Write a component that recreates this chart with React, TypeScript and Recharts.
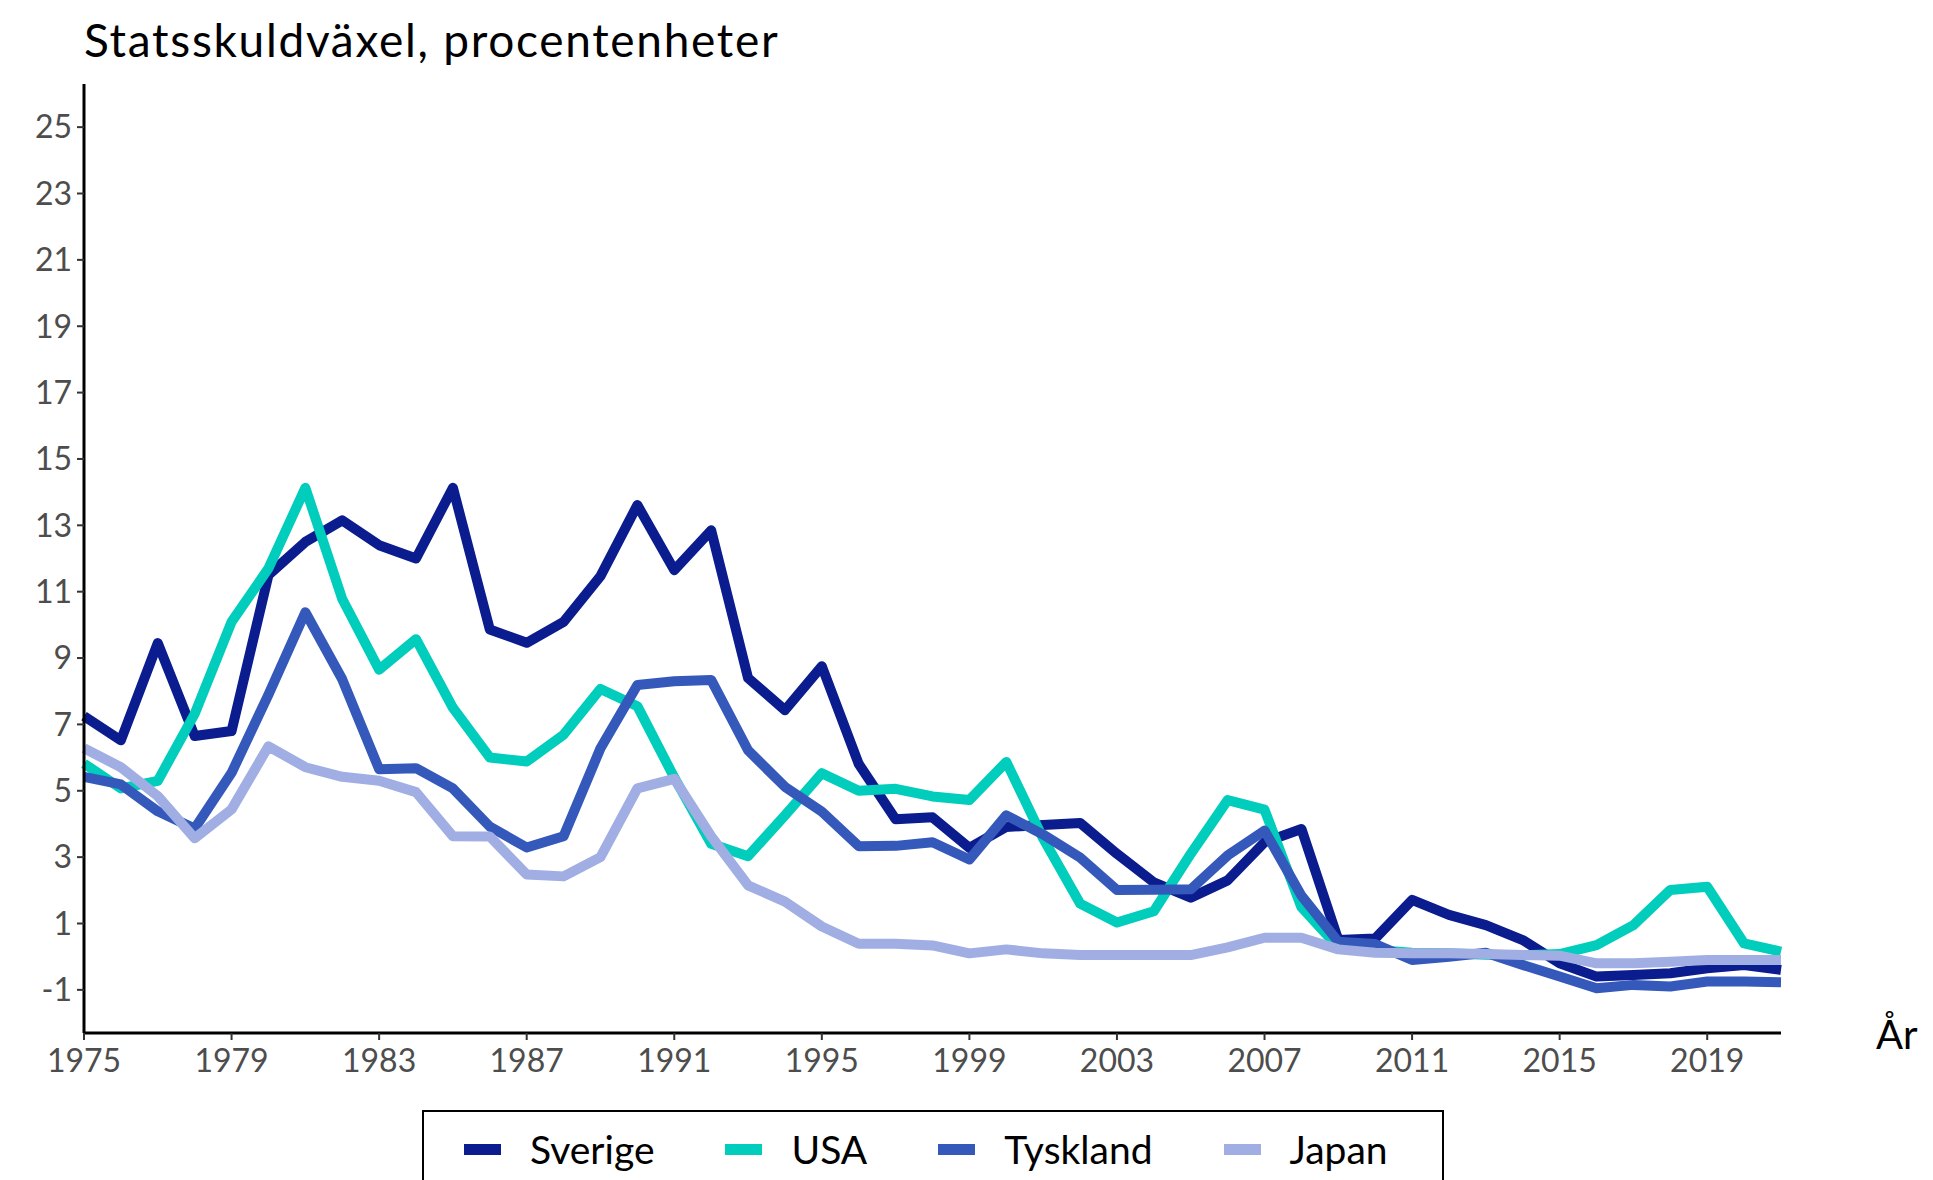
import React from 'react';
import { LineChart, Line, XAxis, YAxis, Label } from 'recharts';

const years = [
  1975, 1976, 1977, 1978, 1979, 1980, 1981, 1982, 1983, 1984, 1985, 1986, 1987, 1988, 1989, 1990,
  1991, 1992, 1993, 1994, 1995, 1996, 1997, 1998, 1999, 2000, 2001, 2002, 2003, 2004, 2005, 2006,
  2007, 2008, 2009, 2010, 2011, 2012, 2013, 2014, 2015, 2016, 2017, 2018, 2019, 2020, 2021,
];

const sverige = [
  7.25, 6.52, 9.45, 6.65, 6.8, 11.5, 12.5, 13.15, 12.4, 12.0, 14.13, 9.86, 9.46, 10.09, 11.47, 13.61,
  11.65, 12.85, 8.4, 7.43, 8.75, 5.81, 4.14, 4.2, 3.28, 3.91, 3.97, 4.03, 3.1, 2.24, 1.78, 2.3,
  3.45, 3.85, 0.5, 0.55, 1.71, 1.26, 0.95, 0.5, -0.2, -0.6, -0.55, -0.5, -0.35, -0.25, -0.4,
];

const usa = [
  5.82, 5.07, 5.3, 7.32, 10.09, 11.7, 14.13, 10.78, 8.65, 9.57, 7.5, 6.0, 5.88, 6.69, 8.07, 7.55,
  5.4, 3.4, 3.03, 4.26, 5.53, 5.0, 5.06, 4.83, 4.72, 5.87, 3.56, 1.6, 1.03, 1.37, 3.1, 4.72,
  4.43, 1.49, 0.28, 0.2, 0.12, 0.1, 0.06, 0.04, 0.08, 0.35, 0.95, 2.01, 2.11, 0.4, 0.15,
];

const tyskland = [
  5.42, 5.19, 4.38, 3.86, 5.54, 7.9, 10.38, 8.36, 5.65, 5.68, 5.07, 3.92, 3.29, 3.63, 6.28, 8.19,
  8.3, 8.34, 6.22, 5.12, 4.37, 3.33, 3.34, 3.45, 2.93, 4.26, 3.68, 2.99, 2.01, 2.02, 2.03, 3.05,
  3.8, 1.84, 0.45, 0.38, -0.1, 0.0, 0.12, -0.25, -0.6, -0.95, -0.85, -0.9, -0.75, -0.75, -0.77,
];

const japan = [
  6.28, 5.71, 4.84, 3.57, 4.44, 6.34, 5.71, 5.42, 5.3, 4.96, 3.63, 3.62, 2.48, 2.42, 3.0, 5.07,
  5.36, 3.63, 2.15, 1.66, 0.91, 0.39, 0.39, 0.34, 0.1, 0.22, 0.1, 0.05, 0.05, 0.05, 0.05, 0.28,
  0.57, 0.57, 0.22, 0.12, 0.1, 0.1, 0.08, 0.05, 0.03, -0.2, -0.2, -0.15, -0.1, -0.1, -0.1,
];

const xTicks = [1975, 1979, 1983, 1987, 1991, 1995, 1999, 2003, 2007, 2011, 2015, 2019];
const yTicks = [-1, 1, 3, 5, 7, 9, 11, 13, 15, 17, 19, 21, 23, 25];

const series = [
  { key: 'sverige', name: 'Sverige', color: '#0a1c8e' },
  { key: 'usa', name: 'USA', color: '#00cdbb' },
  { key: 'tyskland', name: 'Tyskland', color: '#3459ba' },
  { key: 'japan', name: 'Japan', color: '#a0aee3' },
];

const data = years.map((year, i) => ({
  year,
  sverige: sverige[i],
  usa: usa[i],
  tyskland: tyskland[i],
  japan: japan[i],
}));

const FONT = 'Lato, "Open Sans", sans-serif';

// "År" sits to the right of the x axis, like ggplot's axis title here
const AxisTitle = ({ viewBox }: any) => (
  <text x={viewBox.x + viewBox.width + 95} y={viewBox.y + 16} fontSize={40} fontFamily={FONT} fill="#000">
    År
  </text>
);

export default function App() {
  return (
    <div style={{ position: 'absolute', left: 0, top: 0, width: 1933, height: 1180, background: '#fff', overflow: 'hidden', fontFamily: FONT }}>
      <div style={{ position: 'absolute', left: 84, top: 13, fontSize: 46, letterSpacing: 1.7, lineHeight: '54px', color: '#000' }}>
        Statsskuldväxel, procentenheter
      </div>

      <LineChart width={1933} height={1100} data={data} margin={{ top: 84, right: 152, bottom: 0, left: 0 }}>
        <XAxis
          dataKey="year"
          type="number"
          domain={[1975, 2021]}
          ticks={xTicks}
          interval={0}
          height={67}
          tickSize={7}
          tickMargin={9}
          axisLine={{ stroke: '#000', strokeWidth: 3 }}
          tickLine={{ stroke: '#333', strokeWidth: 2 }}
          tick={{ fill: '#4d4d4d', fontSize: 32, fontFamily: FONT }}
        >
          <Label content={<AxisTitle />} />
        </XAxis>
        <YAxis
          type="number"
          domain={[-2.3, 26.3]}
          ticks={yTicks}
          interval={0}
          width={84}
          tickSize={7}
          tickMargin={5}
          axisLine={{ stroke: '#000', strokeWidth: 3 }}
          tickLine={{ stroke: '#333', strokeWidth: 2 }}
          tick={{ fill: '#4d4d4d', fontSize: 32, fontFamily: FONT }}
        />
        {series.map(s => (
          <Line
            key={s.key}
            type="linear"
            dataKey={s.key}
            name={s.name}
            stroke={s.color}
            strokeWidth={10}
            strokeLinejoin="round"
            strokeLinecap="butt"
            dot={false}
            activeDot={false}
            isAnimationActive={false}
          />
        ))}
      </LineChart>

      {/* legend box, cut off by the bottom edge as in the original */}
      <div
        style={{
          position: 'absolute', left: 422, top: 1110, width: 1022, height: 100, boxSizing: 'border-box',
          border: '2px solid #000', display: 'flex', justifyContent: 'flex-start', paddingTop: 18, paddingLeft: 40,
        }}
      >
        {series.map((s, i) => (
          <div key={s.key} style={{ display: 'flex', alignItems: 'center', height: 38, marginLeft: i === 0 ? 0 : 71 }}>
            <div style={{ width: 37, height: 11, background: s.color }} />
            <span style={{ marginLeft: 29, fontSize: 39, color: '#000', lineHeight: '38px' }}>{s.name}</span>
          </div>
        ))}
      </div>
    </div>
  );
}
